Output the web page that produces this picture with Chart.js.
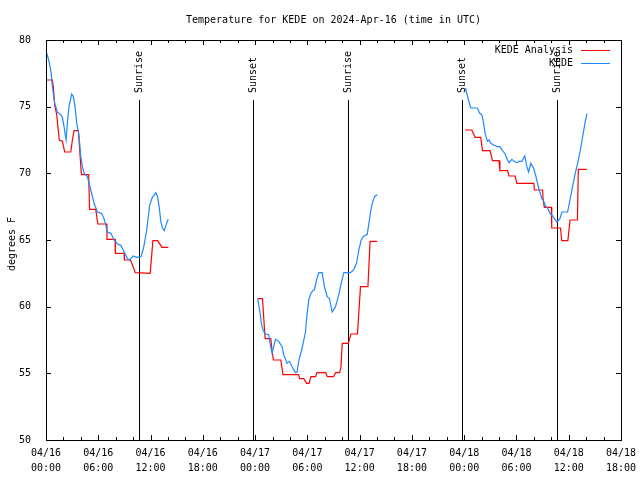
<!DOCTYPE html>
<html>
<head>
<meta charset="utf-8">
<script src="https://cdn.jsdelivr.net/npm/chart.js@4"></script>
<style>
body{margin:0;background:#fff;}
canvas{display:block;}
</style>
</head>
<body>
<canvas id="tempChart" width="640" height="480"></canvas>
<script>

/* DATA (x = hours since 04/16 00:00 UTC, y = degrees F) */

const obsDay1=[[0.1,79.0],[0.35,78.4],[0.6,77.5],[0.73,76.5],[1.0,75.25],[1.3,74.6],[1.69,74.4],[1.88,74.2],[2.07,73.5],[2.3,72.5],[2.45,73.75],[2.64,75.0],[2.95,75.95],[3.14,75.75],[3.33,75.0],[3.53,73.75],[3.8,72.75],[3.99,71.25],[4.18,70.5],[4.37,70.0],[4.75,69.75],[5.14,68.75],[5.52,67.75],[5.9,67.1],[6.36,67.0],[6.67,66.6],[7.05,65.6],[7.44,65.5],[7.82,65.0],[8.2,64.7],[8.59,64.6],[8.97,64.1],[9.35,63.6],[9.6,63.5],[10.0,63.8],[10.4,63.7],[10.9,63.75],[11.2,64.4],[11.56,65.75],[11.9,67.6],[12.2,68.2],[12.45,68.4],[12.61,68.55],[12.8,68.25],[12.99,67.5],[13.18,66.4],[13.37,65.9],[13.57,65.7],[13.76,66.1],[14.03,66.55]];

const obsDay2=[[24.3,60.6],[24.53,59.75],[24.72,58.75],[24.91,58.25],[25.18,57.95],[25.56,57.9],[25.76,57.1],[25.95,56.5],[26.14,57.0],[26.33,57.55],[26.71,57.4],[27.1,57.0],[27.29,56.4],[27.67,55.75],[27.94,55.9],[28.25,55.5],[28.63,55.05],[28.82,55.1],[29.0,55.9],[29.4,56.9],[29.78,58.1],[29.97,59.5],[30.16,60.5],[30.44,61.05],[30.82,61.3],[31.05,62.0],[31.31,62.55],[31.7,62.55],[31.96,61.5],[32.27,60.75],[32.54,60.6],[32.85,59.6],[33.23,60.0],[33.61,60.9],[33.88,61.75],[34.19,62.55],[34.95,62.55],[35.34,62.8],[35.64,63.25],[35.91,64.25],[36.18,65.0],[36.49,65.3],[36.87,65.4],[37.06,66.25],[37.25,67.1],[37.45,67.75],[37.71,68.25],[38.02,68.4]];

const obsDay3=[[48.15,76.4],[48.3,76.0],[48.49,75.5],[48.75,74.9],[49.13,74.9],[49.52,74.9],[49.79,74.5],[50.02,74.4],[50.17,74.0],[50.4,73.0],[50.67,72.4],[50.86,72.5],[51.05,72.25],[51.43,72.1],[51.82,72.0],[52.09,72.0],[52.4,71.7],[52.7,71.45],[52.97,71.0],[53.16,70.8],[53.47,71.05],[53.73,70.9],[54.04,70.8],[54.31,70.9],[54.62,70.9],[54.96,71.3],[55.16,70.6],[55.39,70.1],[55.65,70.75],[55.92,70.45],[56.15,70.0],[56.42,69.25],[56.61,68.75],[56.92,68.1],[57.07,68.0],[57.3,67.6],[57.57,67.4],[57.84,67.0],[58.15,66.8],[58.45,66.5],[58.65,66.35],[58.99,66.6],[59.22,67.1],[59.48,67.1],[59.87,67.1],[60.14,68.0],[60.44,69.0],[60.75,70.0],[61.02,70.75],[61.29,71.6],[61.6,72.75],[61.9,73.9],[62.09,74.5]];

const anaDay1=[[0,77.0],[0.73,77.0],[0.84,76.5],[1.0,75.1],[1.23,74.4],[1.38,73.4],[1.53,72.5],[1.88,72.4],[2.15,71.6],[2.84,71.6],[3.03,72.5],[3.22,73.2],[3.72,73.2],[3.87,71.75],[4.06,69.9],[4.9,69.9],[5.0,67.3],[5.71,67.3],[5.95,66.2],[6.98,66.2],[7.0,65.05],[7.93,65.05],[7.96,64.0],[8.97,64.0],[9.0,63.5],[9.7,63.5],[10.25,62.55],[11.96,62.5],[12.1,63.6],[12.27,64.95],[12.82,64.95],[13.3,64.45],[14.03,64.45]];

const anaDay2=[[24.3,60.6],[24.85,60.6],[25.0,59.1],[25.15,57.6],[25.8,57.6],[25.95,56.7],[26.1,56.0],[26.95,56.0],[27.2,54.9],[29.0,54.9],[29.1,54.6],[29.6,54.6],[29.9,54.25],[30.2,54.25],[30.4,54.75],[30.95,54.75],[31.1,55.05],[32.1,55.05],[32.3,54.75],[33.0,54.75],[33.25,55.05],[33.7,55.05],[33.85,55.4],[34.0,57.25],[34.7,57.25],[35.0,57.95],[35.75,57.95],[36.1,61.5],[36.95,61.5],[37.2,64.9],[38.02,64.9]];

const anaDay3=[[48.1,73.25],[48.87,73.25],[49.25,72.7],[49.9,72.7],[50.1,71.7],[50.97,71.7],[51.25,70.95],[52.0,70.95],[52.1,70.2],[52.97,70.2],[53.15,69.8],[53.85,69.8],[54.05,69.25],[56.0,69.25],[56.05,68.75],[57.0,68.75],[57.05,68.1],[57.2,67.45],[58.0,67.45],[58.05,65.9],[59.05,65.9],[59.2,64.95],[59.9,64.95],[60.15,66.5],[61.0,66.5],[61.1,70.3],[62.06,70.3]];

const sunHours=[10.65,23.72,34.65,47.76,58.68];
const sunLabels=["Sunrise","Sunset","Sunrise","Sunset","Sunrise"];
const dayLabels=["04/16","04/17","04/18"];

const FONT="'DejaVu Sans Mono', monospace";


/* helpers */

const joinDays=(...days)=>{
const out=[];
days.forEach((d,i)=>{
if(i>0) out.push({x:d[0][0]-1,y:null});
d.forEach(p=>out.push({x:p[0],y:p[1]}));
});
return out;
};


/* DRAWING EXTRAS (frame, inner ticks, sun lines, title, legend) */

const gnuplotBits={

id:"gnuplotBits",

beforeDatasetsDraw(chart){

const {ctx,chartArea:a,scales:{x}}=chart;

ctx.save();
ctx.strokeStyle="#000";
ctx.lineWidth=1;
ctx.fillStyle="#000";
ctx.font="10px "+FONT;

sunHours.forEach((h,i)=>{
const px=Math.round(x.getPixelForValue(h))+0.5;
ctx.beginPath();
ctx.moveTo(px,a.top+60);
ctx.lineTo(px,a.bottom);
ctx.stroke();

ctx.save();
ctx.translate(px,a.top+53);
ctx.rotate(-Math.PI/2);
ctx.textAlign="left";
ctx.textBaseline="middle";
ctx.fillText(sunLabels[i],0,0);
ctx.restore();
});

ctx.restore();

},

afterDraw(chart){

const {ctx,chartArea:a,scales:{x,y}}=chart;

ctx.save();
ctx.strokeStyle="#000";
ctx.lineWidth=1;

// frame
ctx.strokeRect(a.left+0.5,a.top+0.5,a.right-a.left,a.bottom-a.top);

// inner ticks
ctx.beginPath();
x.ticks.forEach(t=>{
const px=Math.round(x.getPixelForValue(t.value))+0.5;
const len=t.value%6===0?5:3;
ctx.moveTo(px,a.bottom);ctx.lineTo(px,a.bottom-len);
ctx.moveTo(px,a.top);ctx.lineTo(px,a.top+len);
});
y.ticks.forEach(t=>{
const py=Math.round(y.getPixelForValue(t.value))+0.5;
ctx.moveTo(a.left,py);ctx.lineTo(a.left+5,py);
ctx.moveTo(a.right,py);ctx.lineTo(a.right-5,py);
});
ctx.stroke();

// title
ctx.fillStyle="#000";
ctx.font="10px "+FONT;
ctx.textAlign="center";
ctx.textBaseline="middle";
ctx.fillText("Temperature for KEDE on 2024-Apr-16 (time in UTC)",(a.left+a.right)/2,20);

// y axis title
ctx.save();
ctx.translate(12,244);
ctx.rotate(-Math.PI/2);
ctx.fillText("degrees F",0,0);
ctx.restore();

// legend
const ds=chart.data.datasets;
ctx.textAlign="right";
ds.forEach((d,i)=>{
const ly=50+i*13;
ctx.fillStyle="#000";
ctx.fillText(d.label,573,ly);
ctx.strokeStyle=d.borderColor;
ctx.beginPath();
ctx.moveTo(581,ly+0.5);
ctx.lineTo(610,ly+0.5);
ctx.stroke();
});

ctx.restore();

}

};


/* CHART */

new Chart(document.getElementById("tempChart"),{

type:"line",

data:{
datasets:[
{
label:"KEDE Analysis",
data:joinDays(anaDay1,anaDay2,anaDay3),
borderColor:"#ff0000",
borderWidth:1.2,
pointRadius:0,
tension:0,
spanGaps:false,
order:1
},
{
label:"KEDE",
data:joinDays(obsDay1,obsDay2,obsDay3),
borderColor:"#1e88ff",
borderWidth:1.2,
pointRadius:0,
tension:0,
spanGaps:false,
order:0
}
]
},

options:{
responsive:false,
animation:false,
layout:{padding:{top:40,right:19,left:0,bottom:0}},
plugins:{
legend:{display:false},
title:{display:false},
tooltip:{enabled:false}
},
scales:{
x:{
type:"linear",
min:0,
max:66,
grid:{display:false},
border:{display:false},
afterFit(s){s.height=40;},
ticks:{
stepSize:2,
autoSkip:false,
maxRotation:0,
padding:-2,
color:"#000",
font:{family:FONT,size:10,lineHeight:1.5},
callback(v){
if(v%6!==0) return "";
const hh=String(v%24).padStart(2,"0");
return [dayLabels[Math.floor(v/24)],hh+":00"];
}
}
},
y:{
min:50,
max:80,
grid:{display:false},
border:{display:false},
afterFit(s){s.width=46;},
ticks:{
stepSize:5,
padding:7,
color:"#000",
font:{family:FONT,size:10}
}
}
}
},

plugins:[gnuplotBits]

});

</script>
</body>
</html>
